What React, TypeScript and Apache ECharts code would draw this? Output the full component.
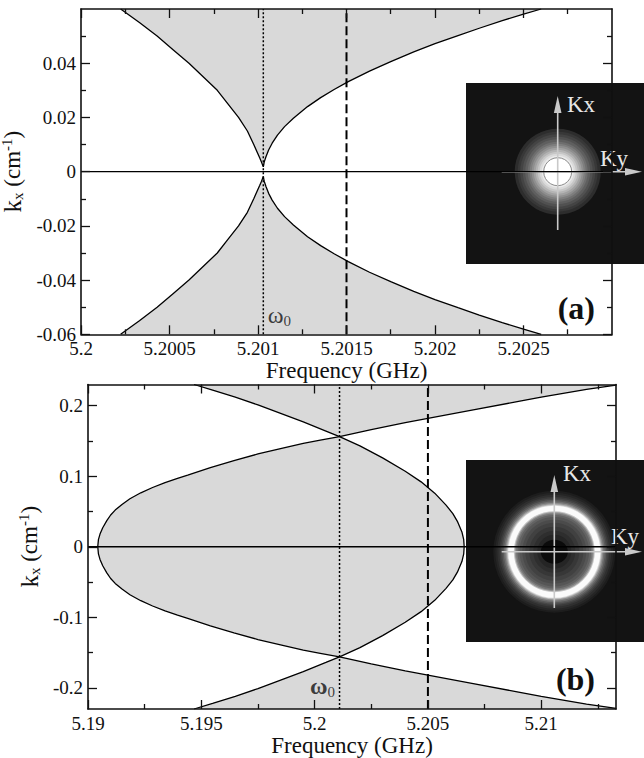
import React, { useEffect, useRef } from 'react';
import * as echarts from 'echarts';

type Pt = [number, number];

// ---------------- Panel (a) ----------------
const aXRange: Pt = [5.2, 5.203];
const aYRange: Pt = [-0.06, 0.06];
const aXMajor = [5.2, 5.2005, 5.201, 5.2015, 5.202, 5.2025];
const aXMinor = [5.20025, 5.20075, 5.20125, 5.20175, 5.20225, 5.20275];
const aYMajor = [-0.06, -0.04, -0.02, 0, 0.02, 0.04];
const aYMinor = [-0.05, -0.03, -0.01, 0.01, 0.03, 0.05];
const aOmega0 = 5.20103;
const aDashed = 5.2015;
const aOmegaLabelK = -0.053;
// upper-left branch, from the top edge down to the cusp at omega0
const aLeftBranch: Pt[] = [
  [5.200224, 0.06], [5.20033, 0.055], [5.20043, 0.05], [5.20052, 0.045], [5.20061, 0.04],
  [5.20069, 0.035], [5.20077, 0.03], [5.20083, 0.025], [5.20089, 0.02], [5.20094, 0.015],
  [5.200976, 0.01], [5.20101, 0.005], [5.20102, 0.0035], [5.20103, 0.0018],
];
// upper-right branch, from the cusp up to the top edge
const aRightBranch: Pt[] = [
  [5.20103, 0.0018], [5.201035, 0.0035], [5.201045, 0.0055], [5.20106, 0.008], [5.20108, 0.0105],
  [5.20111, 0.0135], [5.20115, 0.0166], [5.2012, 0.0197], [5.20128, 0.024], [5.201354, 0.0273],
  [5.20143, 0.0303], [5.20151, 0.0332], [5.20163, 0.0371], [5.20175, 0.0406], [5.20188, 0.0442],
  [5.202, 0.0472], [5.20213, 0.0502], [5.20225, 0.0529], [5.20238, 0.0557], [5.2025, 0.0581],
  [5.2026, 0.06],
];

// ---------------- Panel (b) ----------------
const bXRange: Pt = [5.19, 5.2133];
const bYRange: Pt = [-0.23, 0.23];
const bXMajor = [5.19, 5.195, 5.2, 5.205, 5.21];
const bXMinor = [5.1925, 5.1975, 5.2025, 5.2075, 5.2125];
const bYMajor = [-0.2, -0.1, 0, 0.1, 0.2];
const bYMinor = [-0.15, -0.05, 0.05, 0.15];
const bOmega0 = 5.2011; // crossing point of the two curves
const bDashed = 5.205;
const bOmegaLabelK = -0.1976;
// curve opening to the right (vertex on the left), upper half
const bCurveA: Pt[] = [
  [5.19043, 0], [5.19046, 0.01], [5.19053, 0.018], [5.19065, 0.027], [5.19083, 0.037],
  [5.191, 0.045], [5.1912, 0.052], [5.1915, 0.06], [5.19185, 0.068], [5.19233, 0.0765],
  [5.19285, 0.084], [5.1934, 0.091], [5.19395, 0.097], [5.1944, 0.1015], [5.1954, 0.112],
  [5.19644, 0.122], [5.1975, 0.1315], [5.19864, 0.14], [5.1995, 0.1465], [5.20025, 0.151],
  [5.2011, 0.156], [5.2025, 0.166], [5.204, 0.176], [5.205, 0.182], [5.207, 0.194],
  [5.209, 0.206], [5.21, 0.212], [5.212, 0.223], [5.2133, 0.229],
];
// curve opening to the left (vertex on the right), upper half
const bCurveB: Pt[] = [
  [5.19468, 0.23], [5.1955, 0.222], [5.1965, 0.212], [5.1975, 0.201], [5.1985, 0.189],
  [5.1995, 0.177], [5.2005, 0.164], [5.2011, 0.156], [5.202, 0.143], [5.203, 0.126],
  [5.204, 0.107], [5.2047, 0.092], [5.2053, 0.076], [5.2058, 0.059], [5.2061, 0.047],
  [5.2063, 0.036], [5.2065, 0.021], [5.20658, 0.01], [5.2066, 0],
];

// ---------------- styling ----------------
const INK = '#111';
const FONT = "'Liberation Serif', 'Times New Roman', serif";
const FILL = '#d9d9d9';

const mirror = (pts: Pt[]): Pt[] => pts.map(([f, k]) => [f, -k] as Pt);
const fmt = (v: number) => String(+(+v).toFixed(4));

function makeAxes(gridIndex: number, dim: 'x' | 'y', range: Pt, major: number[], minor: number[], nameCfg: any) {
  const [p1, p2] = dim === 'x' ? ['bottom', 'top'] : ['left', 'right'];
  const base = {
    type: 'value', gridIndex, min: range[0], max: range[1], z: 5,
    splitLine: { show: false }, minorTick: { show: false }, minorSplitLine: { show: false },
  };
  const lineOn = { show: true, onZero: false, lineStyle: { color: INK, width: 1.6 } };
  const lineOff = { show: false, onZero: false };
  const tick = (vals: number[], len: number) => ({
    show: true, inside: true, length: len, customValues: vals, lineStyle: { color: INK, width: 1.3 },
  });
  return [
    {
      ...base, position: p1, axisLine: lineOn, axisTick: tick(major, 9),
      axisLabel: { show: true, customValues: major, formatter: fmt, fontFamily: FONT, fontSize: 19, color: INK, margin: 5 },
      ...nameCfg,
    },
    { ...base, position: p1, axisLine: lineOff, axisTick: tick(minor, 5), axisLabel: { show: false } },
    { ...base, position: p2, axisLine: lineOn, axisTick: tick(major, 9), axisLabel: { show: false } },
    { ...base, position: p2, axisLine: lineOff, axisTick: tick(minor, 5), axisLabel: { show: false } },
  ];
}

const xName = (gap: number) => ({
  name: 'Frequency (GHz)', nameLocation: 'middle', nameGap: gap,
  nameTextStyle: { fontFamily: FONT, fontSize: 23, color: INK },
});
const yName = (gap: number) => ({
  name: '{k|k}{s|x}{n| (cm}{p|-1}{n|)}', nameLocation: 'middle', nameGap: gap, nameRotate: 90,
  nameTextStyle: {
    fontFamily: FONT, fontSize: 23, color: INK,
    rich: {
      k: { fontFamily: FONT, fontSize: 25, color: INK, lineHeight: 26, verticalAlign: 'middle' },
      s: { fontFamily: FONT, fontSize: 15, color: INK, lineHeight: 26, verticalAlign: 'bottom' },
      n: { fontFamily: FONT, fontSize: 23, color: INK, lineHeight: 26, verticalAlign: 'middle' },
      p: { fontFamily: FONT, fontSize: 15, color: INK, lineHeight: 26, verticalAlign: 'top' },
    },
  },
});

function polySeries(polys: Pt[][], xi: number, yi: number) {
  return {
    type: 'custom', xAxisIndex: xi, yAxisIndex: yi, z: 1, silent: true, clip: true,
    data: polys.map((p) => p[0]),
    renderItem: (params: any, api: any) => {
      const poly = polys[params.dataIndex];
      return {
        type: 'polygon',
        shape: { points: poly.map((p) => api.coord(p)) },
        style: { fill: FILL, stroke: 'none' },
      };
    },
  };
}

function curveSeries(data: Pt[], xi: number, yi: number, style: any = {}) {
  return {
    type: 'line', xAxisIndex: xi, yAxisIndex: yi, data, symbol: 'none', showSymbol: false, z: 3, silent: true,
    lineStyle: { color: '#000', width: 1.3, ...style },
  };
}

function guideSeries(xi: number, yi: number, xr: Pt, yr: Pt, omega: number, dashed: number) {
  return [
    curveSeries([[xr[0], 0], [xr[1], 0]], xi, yi),
    curveSeries([[omega, yr[0]], [omega, yr[1]]], xi, yi, { type: [2, 2], width: 1.5 }),
    curveSeries([[dashed, yr[0]], [dashed, yr[1]]], xi, yi, { type: [9, 4], width: 2 }),
  ];
}

function omegaLabel(xi: number, yi: number, f: number, k: number, position: string, bold: boolean) {
  return {
    type: 'scatter', xAxisIndex: xi, yAxisIndex: yi, data: [[f, k]], symbolSize: 1, z: 6, silent: true,
    itemStyle: { color: 'rgba(0,0,0,0)' },
    label: {
      show: true, position, distance: 4, formatter: '{w|ω}{s|0}',
      rich: {
        w: { fontFamily: FONT, fontSize: 24, fontWeight: bold ? 'bold' : 'normal', color: INK, lineHeight: 26, verticalAlign: 'middle' },
        s: { fontFamily: FONT, fontSize: 15, color: INK, lineHeight: 26, verticalAlign: 'bottom' },
      },
    },
  };
}

function insetGraphic(rect: [number, number, number, number], cx: number, cy: number, rings: [number, string][], extra: any[], kx: Pt, ky: Pt, vBottom: number, vTip: number) {
  const arrow = '#c9c9c9';
  const els: any[] = [
    { type: 'rect', shape: { x: rect[0], y: rect[1], width: rect[2], height: rect[3] }, style: { fill: '#131313' } },
  ];
  rings.forEach(([r, c]) => els.push({ type: 'circle', shape: { cx, cy, r }, style: { fill: c } }));
  extra.forEach((e) => els.push(e));
  els.push(
    { type: 'line', shape: { x1: cx, y1: vBottom, x2: cx, y2: vTip + 14 }, style: { stroke: arrow, lineWidth: 1.6 } },
    { type: 'polygon', shape: { points: [[cx, vTip], [cx - 3.8, vTip + 17], [cx + 3.8, vTip + 17]] }, style: { fill: arrow } },
    { type: 'line', shape: { x1: 501.7, y1: cy, x2: 628, y2: cy }, style: { stroke: arrow, lineWidth: 1.6 } },
    { type: 'polygon', shape: { points: [[642, cy], [625, cy - 3.8], [625, cy + 3.8]] }, style: { fill: arrow } },
    { type: 'text', x: kx[0], y: kx[1], style: { text: 'Kx', fill: '#e8e8e8', fontFamily: FONT, fontSize: 23, verticalAlign: 'middle', align: 'left' } },
    { type: 'text', x: ky[0], y: ky[1], style: { text: 'Ky', fill: '#e8e8e8', fontFamily: FONT, fontSize: 23, verticalAlign: 'middle', align: 'left' } },
  );
  return { type: 'group', z: 100, children: els };
}

function buildOption() {
  const aUpper: Pt[] = [...aLeftBranch, ...aRightBranch.slice(1)];
  const aLower = mirror(aUpper);

  const bAFull: Pt[] = [...mirror(bCurveA).reverse(), ...bCurveA.slice(1)];
  const bBFull: Pt[] = [...bCurveB, ...mirror(bCurveB).reverse().slice(1)];
  const topWedge: Pt[] = [
    ...bCurveB.filter((p) => p[0] <= bOmega0),
    ...bCurveA.filter((p) => p[0] >= bOmega0),
    [bXRange[1], bYRange[1]],
  ];
  const lensUpper: Pt[] = [
    ...bCurveA.filter((p) => p[0] <= bOmega0),
    ...bCurveB.filter((p) => p[0] >= bOmega0),
  ];
  const lens: Pt[] = [...lensUpper, ...mirror(lensUpper).reverse()];
  const bottomWedge = mirror(topWedge);

  const ringsA: [number, string][] = [
    [43, '#2d2d2d'], [40, '#383838'], [37.5, '#444444'], [35, '#515151'], [32.5, '#5f5f5f'],
    [30, '#6e6e6e'], [28, '#7e7e7e'], [26, '#8f8f8f'], [24, '#a1a1a1'], [22, '#b4b4b4'],
    [20, '#c7c7c7'], [18, '#dadada'], [16, '#ebebeb'],
  ];
  const ringsB: [number, string][] = [
    [61, '#1d1d1d'], [59, '#252525'], [57, '#2f2f2f'], [55, '#3a3a3a'], [53.5, '#474747'],
    [52, '#595959'], [50.5, '#707070'], [49, '#8e8e8e'], [47.8, '#b2b2b2'], [46.8, '#dadada'],
    [46, '#fbfbfb'], [40.5, '#c4c4c4'], [39.5, '#929292'], [38.3, '#767676'], [36.8, '#636363'],
    [34.8, '#565656'], [32, '#4b4b4b'], [29, '#414141'], [25, '#373737'], [21, '#2e2e2e'], [17, '#252525'],
  ];

  return {
    animation: false,
    backgroundColor: '#ffffff',
    textStyle: { fontFamily: FONT },
    grid: [
      { left: 81, top: 9, width: 531, height: 325.3, outerBoundsMode: 'none', containLabel: false },
      { left: 88, top: 384.5, width: 528, height: 324.5, outerBoundsMode: 'none', containLabel: false },
    ],
    xAxis: [
      ...makeAxes(0, 'x', aXRange, aXMajor, aXMinor, xName(19)),
      ...makeAxes(1, 'x', bXRange, bXMajor, bXMinor, xName(24)),
    ],
    yAxis: [
      ...makeAxes(0, 'y', aYRange, aYMajor, aYMinor, yName(41)),
      ...makeAxes(1, 'y', bYRange, bYMajor, bYMinor, yName(45)),
    ],
    series: [
      polySeries([aUpper, aLower], 0, 0),
      curveSeries(aUpper, 0, 0),
      curveSeries(aLower, 0, 0),
      ...guideSeries(0, 0, aXRange, aYRange, aOmega0, aDashed),
      omegaLabel(0, 0, aOmega0, aOmegaLabelK, 'right', false),

      polySeries([topWedge, lens, bottomWedge], 4, 4),
      curveSeries(bAFull, 4, 4),
      curveSeries(bBFull, 4, 4),
      ...guideSeries(4, 4, bXRange, bYRange, bOmega0, bDashed),
      omegaLabel(4, 4, bOmega0, bOmegaLabelK, 'left', true),
    ],
    graphic: [
      insetGraphic([466, 83, 178, 181], 557.7, 171.7, ringsA, [
        { type: 'circle', shape: { cx: 557.7, cy: 171.7, r: 14 }, style: { fill: '#ffffff', stroke: '#8c8c8c', lineWidth: 1 } },
      ], [567, 104], [600, 158], 230, 96),
      insetGraphic([466, 460, 178, 182], 554.3, 551.7, ringsB, [
        { type: 'ellipse', shape: { cx: 554.3, cy: 551.7, rx: 13.5, ry: 12 }, style: { fill: '#0b0b0b' } },
      ], [563, 473], [611, 536], 608, 475),
      { type: 'text', x: 595, y: 308, z: 100, style: { text: '(a)', fill: INK, fontFamily: FONT, fontSize: 32, fontWeight: 'bold', align: 'right', verticalAlign: 'middle' } },
      { type: 'text', x: 595, y: 679, z: 100, style: { text: '(b)', fill: INK, fontFamily: FONT, fontSize: 32, fontWeight: 'bold', align: 'right', verticalAlign: 'middle' } },
    ],
  };
}

export default function App() {
  const ref = useRef<HTMLDivElement>(null);
  useEffect(() => {
    if (!ref.current) return;
    const chart = echarts.init(ref.current, undefined, { renderer: 'svg' });
    chart.setOption(buildOption() as any);
    return () => chart.dispose();
  }, []);
  return (
    <div
      ref={ref}
      style={{ position: 'absolute', left: 0, top: 0, width: 644, height: 758, background: '#fff' }}
    />
  );
}
